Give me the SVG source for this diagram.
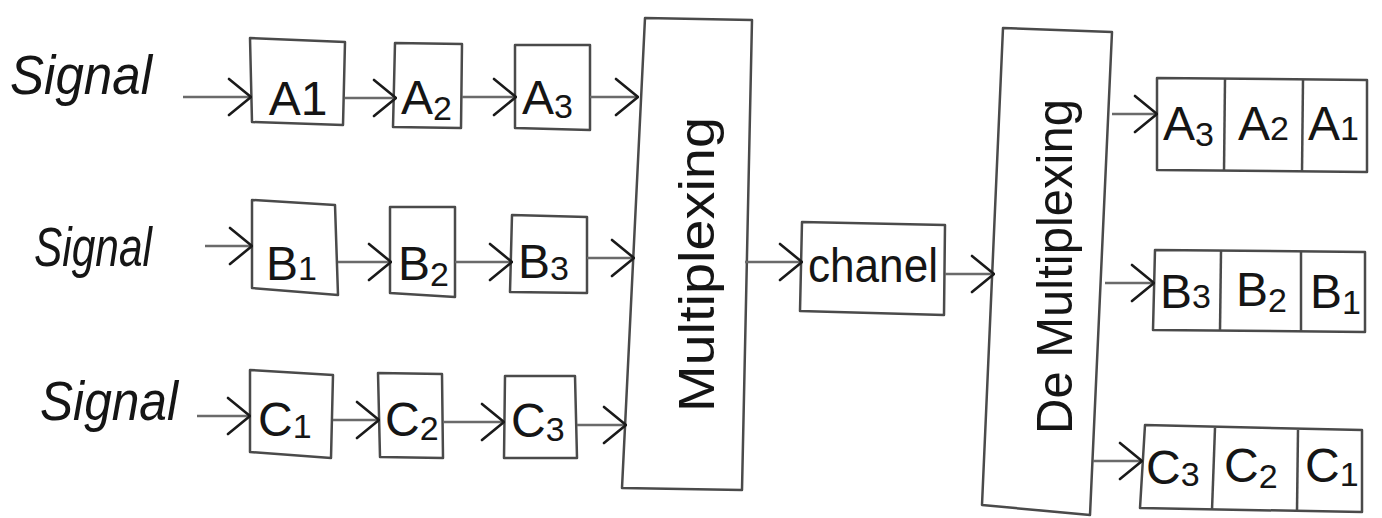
<svg xmlns="http://www.w3.org/2000/svg" width="1382" height="518" viewBox="0 0 1382 518">
  <style>
    .box { fill: none; stroke: #4a4a4a; stroke-width: 2.5; stroke-linejoin: round; }
    .wire { fill: none; stroke: #6a6a6a; stroke-width: 2.5; marker-end: url(#chev); }
    .lbl { font-family: "Liberation Sans", "DejaVu Sans", sans-serif; fill: #151515; }
    .sig { font-size: 56px; font-style: italic; }
    .cell { font-size: 48px; }
    .sub { font-size: 34px; }
    .tall { font-size: 50px; }
  </style>
  <defs>
    <marker id="chev" viewBox="0 0 26 40" refX="25" refY="20" markerWidth="26" markerHeight="40" markerUnits="userSpaceOnUse" orient="auto">
      <path d="M3,2 L25,20 L3,38" fill="none" stroke="#1a1a1a" stroke-width="2.6" stroke-linecap="round" stroke-linejoin="round"/>
    </marker>
  </defs>
  <rect width="1382" height="518" fill="#ffffff"/>

  <!-- source labels -->
  <g id="signal-a"><text class="lbl sig" x="10" y="94" textLength="142" lengthAdjust="spacingAndGlyphs">Signal</text></g>
  <g id="signal-b"><text class="lbl sig" x="34" y="266" textLength="118" lengthAdjust="spacingAndGlyphs">Signal</text></g>
  <g id="signal-c"><text class="lbl sig" x="40" y="420" textLength="138" lengthAdjust="spacingAndGlyphs">Signal</text></g>

  <!-- row A chain -->
  <g id="a1"><path class="box" d="M250,38 L345,42 L343,125 L252,122 Z"/><text class="lbl cell" x="298" y="115" text-anchor="middle">A1</text></g>
  <g id="a2"><path class="box" d="M395,43 L462,44 L461,128 L393,127 Z"/><text class="lbl cell" x="401" y="114">A<tspan class="sub" dy="6">2</tspan></text></g>
  <g id="a3"><path class="box" d="M515,45 L590,45 L590,130 L515,128 Z"/><text class="lbl cell" x="522" y="114">A<tspan class="sub" dy="4">3</tspan></text></g>

  <!-- row B chain -->
  <g id="b1"><path class="box" d="M252,200 L335,205 L338,295 L252,288 Z"/><text class="lbl cell" x="266" y="280">B<tspan class="sub" dy="0">1</tspan></text></g>
  <g id="b2"><path class="box" d="M390,207 L455,207 L455,297 L390,293 Z"/><text class="lbl cell" x="398" y="280">B<tspan class="sub" dy="6">2</tspan></text></g>
  <g id="b3"><path class="box" d="M512,215 L587,217 L587,293 L510,292 Z"/><text class="lbl cell" x="518" y="278">B<tspan class="sub" dy="2">3</tspan></text></g>

  <!-- row C chain -->
  <g id="c1"><path class="box" d="M250,370 L333,375 L331,458 L250,452 Z"/><text class="lbl cell" x="258" y="436">C<tspan class="sub" dy="2">1</tspan></text></g>
  <g id="c2"><path class="box" d="M378,373 L442,374 L443,458 L380,457 Z"/><text class="lbl cell" x="385" y="436">C<tspan class="sub" dy="4">2</tspan></text></g>
  <g id="c3"><path class="box" d="M505,376 L575,376 L577,458 L504,458 Z"/><text class="lbl cell" x="511" y="437">C<tspan class="sub" dy="4">3</tspan></text></g>

  <!-- multiplexer -->
  <g id="mux">
    <path class="box" d="M645,18 L752,20 L742,490 L622,488 Z"/>
    <text class="lbl tall" transform="translate(714,412) rotate(-90)" textLength="295" lengthAdjust="spacingAndGlyphs">Multiplexing</text>
  </g>

  <!-- channel -->
  <g id="channel">
    <path class="box" d="M802,222 L945,225 L944,315 L800,311 Z"/>
    <text class="lbl cell" x="808" y="282" textLength="130" lengthAdjust="spacingAndGlyphs">chanel</text>
  </g>

  <!-- demultiplexer -->
  <g id="demux">
    <path class="box" d="M1003,28 L1112,32 L1090,515 L982,505 Z"/>
    <text class="lbl tall" transform="translate(1072,434) rotate(-90)" textLength="335" lengthAdjust="spacingAndGlyphs">De Multiplexing</text>
  </g>

  <!-- received frames -->
  <g id="out-a">
    <path class="box" d="M1157,78 L1367,80 L1367,172 L1157,170 Z"/>
    <line class="box" x1="1225" y1="79" x2="1224" y2="171"/>
    <line class="box" x1="1303" y1="80" x2="1302" y2="172"/>
    <text class="lbl cell" x="1163" y="140">A<tspan class="sub" dy="6">3</tspan></text>
    <text class="lbl cell" x="1238" y="140">A<tspan class="sub" dy="0">2</tspan></text>
    <text class="lbl cell" x="1308" y="140">A<tspan class="sub" dy="0">1</tspan></text>
  </g>
  <g id="out-b">
    <path class="box" d="M1155,250 L1365,252 L1365,332 L1153,330 Z"/>
    <line class="box" x1="1221" y1="251" x2="1220" y2="331"/>
    <line class="box" x1="1301" y1="252" x2="1301" y2="332"/>
    <text class="lbl cell" x="1160" y="308">B<tspan class="sub" dy="0">3</tspan></text>
    <text class="lbl cell" x="1236" y="306">B<tspan class="sub" dy="6">2</tspan></text>
    <text class="lbl cell" x="1310" y="308">B<tspan class="sub" dy="6">1</tspan></text>
  </g>
  <g id="out-c">
    <path class="box" d="M1145,425 L1362,430 L1362,512 L1140,508 Z"/>
    <line class="box" x1="1215" y1="428" x2="1212" y2="510"/>
    <line class="box" x1="1298" y1="430" x2="1297" y2="511"/>
    <text class="lbl cell" x="1146" y="484">C<tspan class="sub" dy="2">3</tspan></text>
    <text class="lbl cell" x="1224" y="482">C<tspan class="sub" dy="6">2</tspan></text>
    <text class="lbl cell" x="1305" y="482">C<tspan class="sub" dy="4">1</tspan></text>
  </g>

  <!-- connectors -->
  <g id="connectors">
    <line class="wire" x1="183" y1="97" x2="251" y2="97"/>
    <line class="wire" x1="345" y1="98" x2="396" y2="98"/>
    <line class="wire" x1="462" y1="97" x2="516" y2="97"/>
    <line class="wire" x1="590" y1="97" x2="638" y2="97"/>

    <line class="wire" x1="205" y1="246" x2="252" y2="246"/>
    <line class="wire" x1="338" y1="262" x2="391" y2="262"/>
    <line class="wire" x1="455" y1="262" x2="512" y2="262"/>
    <line class="wire" x1="587" y1="258" x2="634" y2="258"/>

    <line class="wire" x1="197" y1="416" x2="250" y2="416"/>
    <line class="wire" x1="333" y1="420" x2="379" y2="420"/>
    <line class="wire" x1="443" y1="422" x2="504" y2="422"/>
    <line class="wire" x1="577" y1="425" x2="626" y2="425"/>

    <line class="wire" x1="745" y1="262" x2="802" y2="262"/>
    <line class="wire" x1="945" y1="274" x2="994" y2="274"/>

    <line class="wire" x1="1112" y1="114" x2="1157" y2="114"/>
    <line class="wire" x1="1105" y1="283" x2="1154" y2="283"/>
    <line class="wire" x1="1093" y1="461" x2="1142" y2="461"/>
  </g>
</svg>
